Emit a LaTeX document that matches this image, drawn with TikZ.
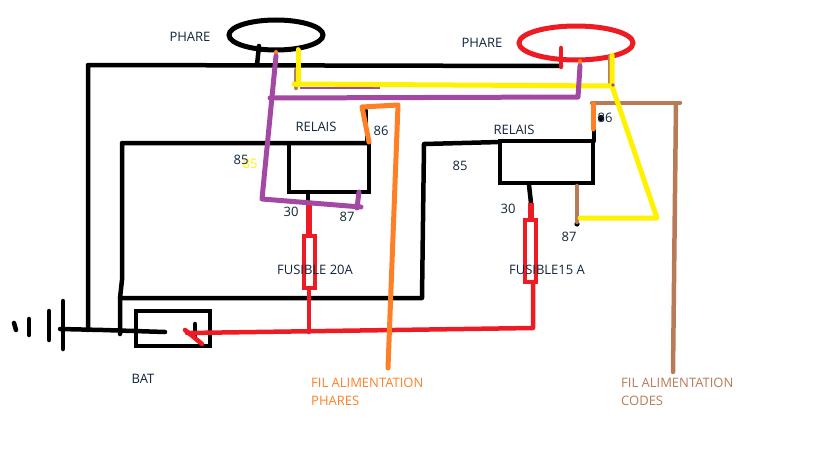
\documentclass[tikz,border=0pt]{standalone}
\usepackage{fontspec}
\setmainfont{Open Sans}
\definecolor{wblack}{HTML}{000000}
\definecolor{wred}{HTML}{ED1C24}
\definecolor{wyellow}{HTML}{FFF200}
\definecolor{wpurple}{HTML}{A349A4}
\definecolor{worange}{HTML}{FF7F27}
\definecolor{wbrown}{HTML}{B97A57}
\definecolor{wtext}{HTML}{10243A}
\tikzset{
  wire/.style={line width=4.5pt,line cap=round,line join=round},
  blk/.style={wire,wblack},
  redw/.style={wire,wred},
  yel/.style={wire,wyellow,line width=5pt},
  pur/.style={wire,wpurple,line width=5pt},
  ora/.style={wire,worange,line width=5pt},
  bro/.style={wire,wbrown},
  lab/.style={inner sep=0pt,font=\fontsize{13pt}{15pt}\selectfont,text=wtext},
  note/.style={lab,align=left,anchor=west,font=\fontsize{13pt}{18pt}\selectfont},
}
\begin{document}
\begin{tikzpicture}[x=1pt,y=-1pt]
\useasboundingbox (0,0) rectangle (819,460);
% lamps
\draw[line width=5pt,wblack] (276,35) ellipse [x radius=47,y radius=15];
\draw[line width=5pt,wred] (576,43) ellipse [x radius=57,y radius=17];
% black wiring
\draw[blk] (259,46) -- (257,65);
\draw[blk] (88,330) -- (88,65) -- (561,66);
\draw[blk] (120,334) -- (120,298) -- (122,280) -- (122,143) -- (369,143);
\draw[blk] (120,298) -- (422,298) -- (424,144) -- (500,142);
\draw[blk,line join=miter] (289,143) rectangle (369,192);
\draw[blk,line join=miter] (500,141) rectangle (593,183);
\draw[blk,line width=3pt] (366,110) -- (366,142);
\draw[blk] (594,141) -- (594,128);
\draw[blk] (308,192) -- (308,204);
\draw[blk] (529,185) -- (531,203);
\fill[wblack] (601,118) circle (3.2pt);
\fill[wblack] (577,224) circle (2.6pt);
% battery
\draw[blk] (14,323) -- (16,330);
\draw[blk] (29,319) -- (29,335);
\draw[blk] (49,311) -- (49,340);
\draw[blk] (63,301) -- (63,349);
\draw[blk] (60,329) -- (103,330) -- (165,332);
\draw[blk,line join=miter] (136,311) rectangle (210,346);
\draw[blk] (195,324) -- (195,338);
% red wiring
\draw[redw] (561,48) -- (561,67);
\draw[redw] (187,333) -- (533,328) -- (533,282);
\draw[redw] (185,330) -- (202,344);
\draw[redw,line width=6pt,line cap=butt] (309,204) -- (309,236);
\draw[redw] (309,288) -- (309,332);
\draw[redw] (305,331) -- (316,331);
\draw[redw,line width=6pt,line cap=butt] (531,203) -- (531,220);
\draw[wred,line width=4pt,line join=miter] (304,236) rectangle (315,288);
\draw[wred,line width=4pt,line join=miter] (525,220) rectangle (536,282);
% brown behind
\draw[bro] (296,70) -- (296,88);
\draw[bro] (298,49) -- (298,53);
\draw[bro,line width=3pt] (609,56) -- (609,84);
\draw[bro] (592,103) -- (680,103);
\draw[bro] (676,103) -- (673,372);
\draw[bro] (577,186) -- (577,222);
% yellow
\draw[wpurple,line width=1.5pt] (300,88) -- (380,88);
\draw[yel] (298,50) -- (298,85);
\draw[yel] (294,84) -- (612,86);
\draw[yel] (612,55) -- (612,86) -- (657,218) -- (580,218);
\fill[wpurple] (613,85) circle (1.8pt);
% purple
\draw[worange,line width=4pt,line cap=round] (276,52) -- (276,60);
\draw[worange,line width=4pt,line cap=round] (580,61) -- (580,66);
\draw[pur] (276,56) -- (262,199) -- (361,207);
\draw[pur] (270,98) -- (578,97) -- (580,66);
\draw[pur] (359,192) -- (357,208);
% orange
\draw[ora] (369,142) -- (362,107) -- (398,105) -- (388,368);
\draw[ora] (593,104) -- (593,129);
% labels
\node[lab] (ph1) at (190,37) {PHARE};
\node[lab] (ph2) at (482,43) {PHARE};
\node[lab] (re1) at (316,127) {RELAIS};
\node[lab] (re2) at (514,130) {RELAIS};
\node[lab,text=wyellow] (y85) at (250,164) {85};
\node[lab] (a85) at (241,160) {85};
\node[lab] (b85) at (460,166) {85};
\node[lab] (a86) at (381,131) {86};
\node[lab] (b86) at (605,118) {86};
\node[lab] (a30) at (291,212) {30};
\node[lab] (b30) at (508,209) {30};
\node[lab] (a87) at (347,217) {87};
\node[lab] (b87) at (569,237) {87};
\node[lab] (f20) at (315,270) {FUSIBLE 20A};
\node[lab] (f15) at (547,270) {FUSIBLE15 A};
\node[lab] (bat) at (143,379) {BAT};
\node[note,text=worange] (fp) at (311,392) {FIL ALIMENTATION\\PHARES};
\node[note,text=wbrown] (fc) at (621,392) {FIL ALIMENTATION\\CODES};
\end{tikzpicture}
\end{document}
